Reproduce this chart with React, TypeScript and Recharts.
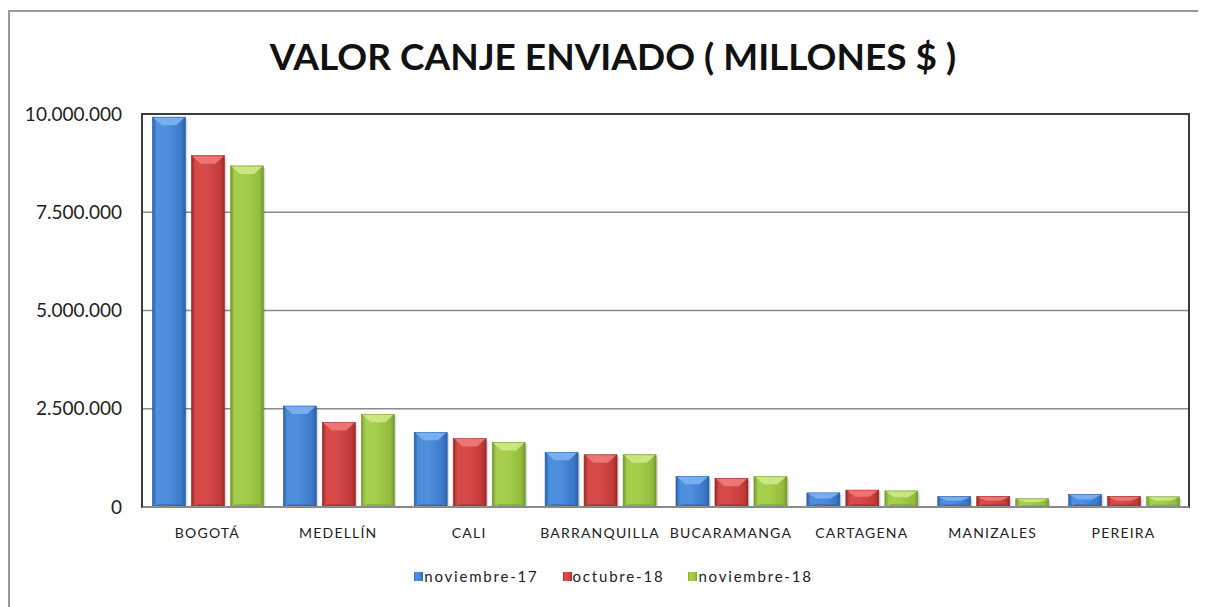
import React from "react";
import {
  BarChart,
  Bar,
  XAxis,
  YAxis,
  CartesianGrid,
  Legend,
  ReferenceArea,
} from "recharts";

if (typeof document !== "undefined") {
  document.documentElement.style.overflow = "hidden";
}

const categories = [
  "BOGOTÁ",
  "MEDELLÍN",
  "CALI",
  "BARRANQUILLA",
  "BUCARAMANGA",
  "CARTAGENA",
  "MANIZALES",
  "PEREIRA",
];
const nov17 = [9920000, 2570000, 1900000, 1390000, 780000, 360000, 270000, 320000];
const oct18 = [8940000, 2150000, 1740000, 1330000, 730000, 430000, 270000, 270000];
const nov18 = [8680000, 2360000, 1640000, 1330000, 780000, 410000, 210000, 260000];
const yTicks = [0, 2500000, 5000000, 7500000, 10000000];
const seriesNames = ["noviembre-17", "octubre-18", "noviembre-18"];

const data = categories.map((c, i) => ({
  name: c,
  s0: nov17[i],
  s1: oct18[i],
  s2: nov18[i],
}));

const palette = [
  { id: "b", mid: "#4d8fdd", light: "#7db2f0", edge: "#2a5ea8", solid: "#3b78c9" },
  { id: "r", mid: "#d64a48", light: "#f07a78", edge: "#9a2727", solid: "#c23b3a" },
  { id: "g", mid: "#a5ce4c", light: "#cde98a", edge: "#74982d", solid: "#93bd3c" },
];

const fmt = (v: number) =>
  String(v).replace(/\B(?=(\d{3})+(?!\d))/g, ".");

const makeShape = (c: (typeof palette)[number]) => (props: any) => {
  const { x, y, width: w, height: h } = props;
  if (!h || h <= 0) return <g />;
  const b = Math.min(8, h / 2.5);
  return (
    <g>
      <rect x={x + 2} y={y + 2} width={w} height={h - 2} fill="rgba(0,0,0,0.13)" />
      <rect x={x} y={y} width={w} height={h} fill={`url(#grad-${c.id})`} stroke={c.edge} strokeWidth={0.6} />
      <polygon
        points={`${x + 1},${y + 0.5} ${x + w - 1},${y + 0.5} ${x + w * 0.72},${y + b} ${x + w * 0.28},${y + b}`}
        fill={c.light}
        opacity={0.9}
      />
      <polygon
        points={`${x + 1},${y + h - 0.5} ${x + w - 1},${y + h - 0.5} ${x + w * 0.8},${y + h - Math.min(3, h / 4)} ${x + w * 0.2},${y + h - Math.min(3, h / 4)}`}
        fill={c.edge}
        opacity={0.5}
      />
    </g>
  );
};

const LegendContent = () => (
  <div
    style={{
      display: "flex",
      justifyContent: "center",
      gap: 24,
      fontFamily: "Lato",
      fontSize: 15,
      color: "#222",
      letterSpacing: 1.8,
      paddingLeft: 28,
    }}
  >
    {seriesNames.map((n, i) => (
      <div key={n} style={{ display: "flex", alignItems: "center" }}>
        <svg width={9} height={9} style={{ marginRight: 1 }}>
          <rect x={0} y={0} width={9} height={9} fill={`url(#grad-${palette[i].id})`} />
        </svg>
        <span>{n}</span>
      </div>
    ))}
  </div>
);

export default function App() {
  return (
    <div
      style={{
        position: "relative",
        marginTop: 2,
        width: 1196,
        height: 595,
        borderTop: "2px solid #999",
        borderLeft: "2px solid #999",
        background: "#fff",
        fontFamily: "Lato",
        overflow: "hidden",
      }}
    >
      <svg width={0} height={0} style={{ position: "absolute" }}>
        <defs>
          {palette.map((c) => (
            <linearGradient key={c.id} id={`grad-${c.id}`} x1="0" y1="0" x2="1" y2="0">
              <stop offset="0%" stopColor={c.edge} />
              <stop offset="12%" stopColor={c.mid} />
              <stop offset="45%" stopColor={c.mid} />
              <stop offset="88%" stopColor={c.solid} />
              <stop offset="100%" stopColor={c.edge} />
            </linearGradient>
          ))}
        </defs>
      </svg>
      <div
        style={{
          position: "absolute",
          top: 21,
          left: 0,
          width: 1166,
          paddingLeft: 20,
          textAlign: "center",
          fontFamily: "Lato",
          fontWeight: 700,
          fontSize: 37,
          color: "#111",
        }}
      >
        VALOR CANJE ENVIADO ( MILLONES $ )
      </div>
      <BarChart
        width={1186}
        height={585}
        data={data}
        margin={{ top: 102, right: 7, bottom: 12, left: 0 }}
        barCategoryGap="8%"
        barGap={6}
      >
        <CartesianGrid vertical={false} stroke="#8a8a8a" strokeWidth={1.5} />
        <ReferenceArea
          y1={0}
          y2={10000000}
          fill="none"
          stroke="#3c3c3c"
          strokeWidth={2}
          ifOverflow="visible"
        />
        <XAxis
          dataKey="name"
          height={60}
          tickLine={false}
          tickSize={0}
          tickMargin={21}
          axisLine={{ stroke: "#8a8a8a", strokeWidth: 2 }}
          tick={{ fill: "#222", fontSize: 14, fontFamily: "Lato", letterSpacing: 1.2 }}
          interval={0}
        />
        <YAxis
          width={132}
          domain={[0, 10000000]}
          ticks={yTicks}
          tickFormatter={fmt}
          tickLine={false}
          tickSize={0}
          tickMargin={20}
          axisLine={{ stroke: "#3c3c3c", strokeWidth: 2 }}
          tick={{ fill: "#222", fontSize: 19, fontFamily: "Lato" }}
          interval={0}
        />
        <Legend verticalAlign="bottom" content={<LegendContent />} />
        {palette.map((c, i) => (
          <Bar
            key={c.id}
            dataKey={`s${i}`}
            name={seriesNames[i]}
            fill={c.solid}
            shape={makeShape(c)}
            isAnimationActive={false}
          />
        ))}
      </BarChart>
    </div>
  );
}
